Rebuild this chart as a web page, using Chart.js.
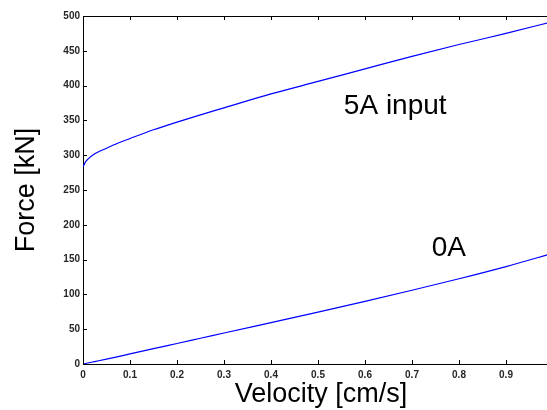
<!DOCTYPE html>
<html><head><meta charset="utf-8">
<style>html,body{margin:0;padding:0;overflow:hidden;background:#fff}canvas{display:block}</style>
<script src="https://cdn.jsdelivr.net/npm/chart.js@4/dist/chart.umd.min.js"></script>
</head><body>
<canvas id="c" width="560" height="410"></canvas>
<script>
const velocity = [0, 0.005, 0.01, 0.025, 0.05, 0.075, 0.1, 0.15, 0.2, 0.25, 0.3, 0.4, 0.5, 0.6, 0.7, 0.8, 0.9, 1.0];
const force5A  = [283, 290, 294, 302, 310, 317.5, 324, 336.5, 347.5, 358, 368, 388, 406, 424, 442, 459, 475, 492];
const force0A  = [0, 0.7, 1.4, 3.5, 7, 10.7, 14.5, 22, 29.5, 37, 44.5, 59.5, 74.5, 90, 106, 122.5, 140, 159];
const xTickValues = [0, 0.1, 0.2, 0.3, 0.4, 0.5, 0.6, 0.7, 0.8, 0.9];
const yTickValues = [0, 50, 100, 150, 200, 250, 300, 350, 400, 450, 500];
const seriesNames = ['5A input', '0A'];

const pts = ys => velocity.map((v, i) => ({x: v, y: ys[i]}));

const boxPlugin = {
  id: 'box',
  afterDraw(chart) {
    const {ctx, chartArea: a, scales: {x, y}} = chart;
    ctx.save();
    ctx.strokeStyle = '#000';
    ctx.lineWidth = 1;
    ctx.beginPath();
    ctx.moveTo(a.left, a.top + 0.5); ctx.lineTo(a.right, a.top + 0.5);
    ctx.moveTo(a.right - 0.5, a.top); ctx.lineTo(a.right - 0.5, a.bottom);
    xTickValues.forEach(v => {
      const px = Math.round(x.getPixelForValue(v)) + 0.5;
      ctx.moveTo(px, a.bottom); ctx.lineTo(px, a.bottom - 4);
      ctx.moveTo(px, a.top); ctx.lineTo(px, a.top + 4);
    });
    yTickValues.forEach(v => {
      const py = Math.round(y.getPixelForValue(v)) + 0.5;
      ctx.moveTo(a.left, py); ctx.lineTo(a.left + 4, py);
      ctx.moveTo(a.right, py); ctx.lineTo(a.right - 4, py);
    });
    ctx.stroke();

    ctx.fillStyle = '#000';
    ctx.font = '28px "Liberation Sans", Arial, sans-serif';
    ctx.textAlign = 'left';
    ctx.textBaseline = 'alphabetic';
    ctx.fillText(seriesNames[0], x.getPixelForValue(0.555), y.getPixelForValue(359));
    ctx.fillText(seriesNames[1], x.getPixelForValue(0.742), y.getPixelForValue(155));

    ctx.font = '27px "Liberation Sans", Arial, sans-serif';
    ctx.textAlign = 'center';
    ctx.fillText('Velocity [cm/s]', 321, 402);
    ctx.translate(34, (a.top + a.bottom) / 2);
    ctx.rotate(-Math.PI / 2);
    ctx.fillText('Force [kN]', 0, 0);
    ctx.restore();
  }
};

const tickFont = {family: '"Liberation Sans", Arial, sans-serif', size: 10, weight: 'bold'};

new Chart(document.getElementById('c'), {
  type: 'line',
  data: {
    datasets: [
      {label: seriesNames[0], data: pts(force5A), borderColor: '#0000ff', borderWidth: 1.2, pointRadius: 0, cubicInterpolationMode: 'monotone', fill: false},
      {label: seriesNames[1], data: pts(force0A), borderColor: '#0000ff', borderWidth: 1.2, pointRadius: 0, cubicInterpolationMode: 'monotone', fill: false}
    ]
  },
  options: {
    responsive: false,
    animation: false,
    layout: {padding: {left: 0, top: 16, right: 7, bottom: 0}},
    plugins: {legend: {display: false}, tooltip: {enabled: false}},
    scales: {
      x: {
        type: 'linear', min: 0, max: 1,
        afterBuildTicks: s => { s.ticks = xTickValues.map(v => ({value: v})); },
        afterFit: s => { s.height = 46; },
        grid: {display: true, drawOnChartArea: false, drawTicks: false},
        border: {display: true, color: '#000', width: 1},
        ticks: {padding: 5, color: '#262626', font: tickFont, maxRotation: 0, autoSkip: false, callback: v => String(v)}
      },
      y: {
        type: 'linear', min: 0, max: 500,
        afterBuildTicks: s => { s.ticks = yTickValues.map(v => ({value: v})); },
        afterFit: s => { s.width = 83; },
        grid: {display: true, drawOnChartArea: false, drawTicks: false},
        border: {display: true, color: '#000', width: 1},
        ticks: {padding: 3, color: '#262626', font: tickFont, autoSkip: false, callback: v => String(v)}
      }
    }
  },
  plugins: [boxPlugin]
});
</script>
</body></html>
